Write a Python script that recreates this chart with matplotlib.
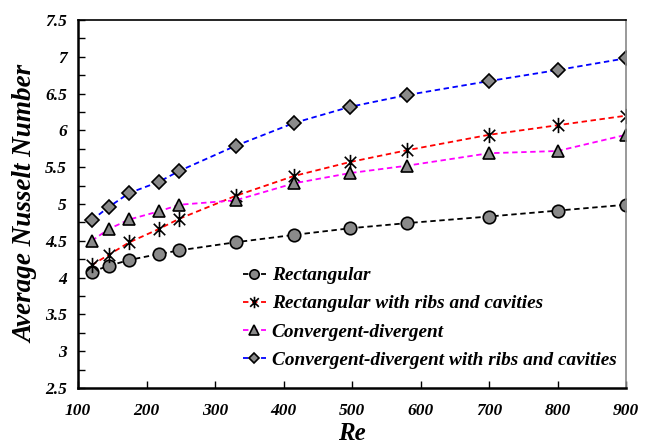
import numpy as np
import matplotlib.pyplot as plt
from matplotlib.path import Path
from matplotlib.ticker import MultipleLocator

# ---------------- data ----------------
re_values = [120, 145, 175, 218, 248, 330, 415, 497, 580, 700, 800, 900]

nu_rect = [4.08, 4.16, 4.24, 4.32, 4.37, 4.48, 4.58, 4.67, 4.74, 4.83, 4.91, 4.99]
nu_rect_ribs = [4.17, 4.31, 4.48, 4.66, 4.80, 5.11, 5.38, 5.57, 5.73, 5.94, 6.07, 6.20]
nu_cd = [4.50, 4.66, 4.79, 4.90, 4.99, 5.05, 5.28, 5.42, 5.52, 5.69, 5.72, 5.94]
nu_cd_ribs = [4.78, 4.96, 5.15, 5.30, 5.45, 5.79, 6.10, 6.32, 6.48, 6.67, 6.82, 6.98]

labels = [
    "Rectangular",
    "Rectangular with ribs and cavities",
    "Convergent-divergent",
    "Convergent-divergent with ribs and cavities",
]

# asterisk marker: vertical bar plus an X
star = Path(
    [(0, -1), (0, 1), (-0.75, -0.75), (0.75, 0.75), (-0.75, 0.75), (0.75, -0.75)],
    [Path.MOVETO, Path.LINETO, Path.MOVETO, Path.LINETO, Path.MOVETO, Path.LINETO],
)

plt.rcParams["font.family"] = "Liberation Serif"
plt.rcParams["font.weight"] = "bold"
plt.rcParams["font.style"] = "italic"
font = {"family": "Liberation Serif", "weight": "bold", "style": "italic"}

fig = plt.figure(figsize=(6.55, 4.44), dpi=100)
ax = fig.add_axes([78 / 655, 1 - 388 / 444, 548 / 655, 368 / 444])

gray = "#8a8a8a"
dash = (0, (3, 2))
ax.plot(re_values, nu_rect, ls=dash, lw=1.3, color="black",
        marker="o", ms=9, mfc=gray, mec="black", mew=1.2, label=labels[0])
ax.plot(re_values, nu_rect_ribs, ls=dash, lw=1.3, color="red",
        marker=star, ms=11, mec="black", mew=1.2, label=labels[1])
ax.plot(re_values, nu_cd, ls=dash, lw=1.3, color="magenta",
        marker="^", ms=9, mfc=gray, mec="black", mew=1.2, label=labels[2])
ax.plot(re_values, nu_cd_ribs, ls=dash, lw=1.3, color="blue",
        marker="D", ms=7, mfc=gray, mec="black", mew=1.2, label=labels[3])

ax.set_xlim(100, 900)
ax.set_ylim(2.5, 7.5)
ax.xaxis.set_major_locator(MultipleLocator(100))
ax.yaxis.set_major_locator(MultipleLocator(0.5))
ax.yaxis.set_minor_locator(MultipleLocator(0.25))
ax.yaxis.set_major_formatter(lambda v, p: f"{v:g}")

ax.tick_params(axis="both", which="both", direction="in", labelsize=12.5,
               top=False, right=False)
ax.tick_params(axis="both", which="major", length=5, width=1)
ax.tick_params(axis="y", which="minor", length=5, width=1)
ax.tick_params(axis="x", pad=11)
ax.tick_params(axis="y", pad=8)

for side in ["left", "bottom"]:
    ax.spines[side].set_linewidth(1.8)
ax.spines["top"].set_linewidth(1.2)
ax.spines["right"].set_color("#888888")
ax.spines["right"].set_linewidth(1.2)

ax.set_xlabel("Re", fontdict=font, fontsize=18, labelpad=2)
ax.set_ylabel("Average Nusselt Number", fontdict=font, fontsize=19.5, labelpad=5)

ax.legend(loc="lower right", frameon=False, handlelength=1.2, markerscale=0.75,
          handletextpad=0.3, labelspacing=0.55, borderaxespad=0.6,
          bbox_to_anchor=(1.018, 0.0),
          prop={"family": "Liberation Serif", "weight": "bold",
                "style": "italic", "size": 13.9})

fig.canvas.draw()
for lbl in ax.get_xticklabels() + ax.get_yticklabels():
    lbl.set_fontweight("bold")
    lbl.set_fontstyle("italic")

fig.savefig("out.png", dpi=100)
